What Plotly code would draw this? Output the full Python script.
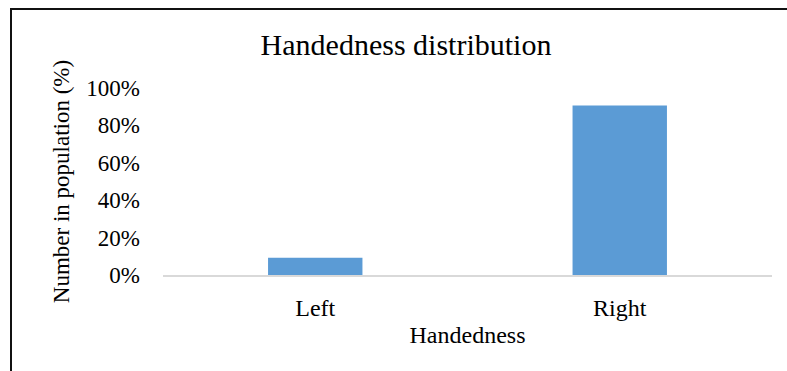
import plotly.graph_objects as go

categories = ["Left", "Right"]
shares = [9.2, 90.6]
y_ticks = [0, 20, 40, 60, 80, 100]
y_tick_labels = ["0%", "20%", "40%", "60%", "80%", "100%"]

W, H = 787, 371
ML, MR, MT, MB = 163, 15, 88, 96
pw, ph = W - ML - MR, H - MT - MB

def px_x(x):
    return (x - ML) / pw

def px_y(y):
    return (H - MB - y) / ph

font = "Liberation Serif, Times New Roman, serif"

fig = go.Figure(
    go.Bar(
        x=categories,
        y=shares,
        marker=dict(color="#5B9BD5", line=dict(width=0)),
        width=0.31,
    )
)

fig.update_layout(
    width=W,
    height=H,
    margin=dict(l=ML, r=MR, t=MT, b=MB),
    paper_bgcolor="white",
    plot_bgcolor="white",
    showlegend=False,
    font=dict(family=font, color="#000000", size=23),
    title=dict(
        text="Handedness distribution",
        x=406 / W,
        xanchor="center",
        y=1 - 44 / H,
        yanchor="middle",
        font=dict(family=font, size=30, color="#000000"),
    ),
    xaxis=dict(
        showgrid=False,
        showline=True,
        linecolor="#D9D9D9",
        linewidth=2,
        ticks="",
        ticklabelstandoff=10,
        tickfont=dict(size=24),
        title=dict(text="Handedness", font=dict(size=24), standoff=6),
    ),
    yaxis=dict(
        range=[0, 100],
        tickvals=y_ticks,
        ticktext=y_tick_labels,
        showgrid=False,
        zeroline=False,
        showline=False,
        ticks="",
        ticklabelstandoff=22,
        tickfont=dict(size=23),
        title=dict(text="Number in population (%)", font=dict(size=23), standoff=10),
    ),
    shapes=[
        dict(type="line", xref="paper", yref="paper",
             x0=px_x(10), x1=px_x(800), y0=px_y(9), y1=px_y(9),
             line=dict(color="#111111", width=2)),
        dict(type="line", xref="paper", yref="paper",
             x0=px_x(11), x1=px_x(11), y0=px_y(9), y1=px_y(380),
             line=dict(color="#111111", width=2)),
    ],
)

fig.write_html("out.html")
